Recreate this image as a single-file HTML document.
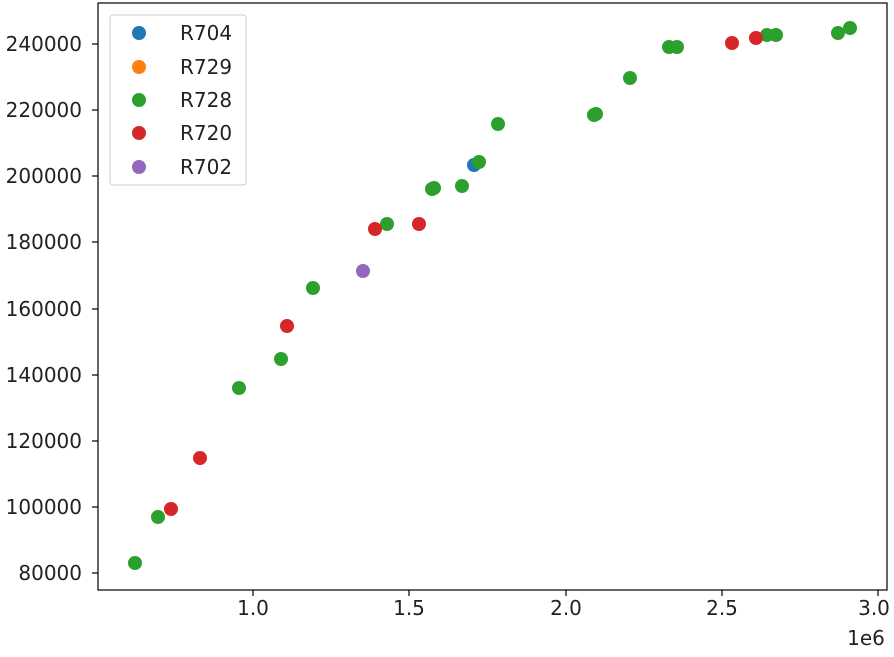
<!DOCTYPE html>
<html><head><meta charset="utf-8"><style>body{margin:0;background:#fff}</style></head><body>
<svg width="894" height="652" xmlns="http://www.w3.org/2000/svg" font-family="DejaVu Sans, Liberation Sans, sans-serif" font-size="20">
<rect width="894" height="652" fill="#fff"/>
<g stroke="#000" stroke-width="1.2">
<line x1="253" y1="590" x2="253" y2="596"/><line x1="409" y1="590" x2="409" y2="596"/><line x1="566" y1="590" x2="566" y2="596"/><line x1="722" y1="590" x2="722" y2="596"/><line x1="878" y1="590" x2="878" y2="596"/>
<line x1="92" y1="44" x2="98" y2="44"/><line x1="92" y1="110" x2="98" y2="110"/><line x1="92" y1="176" x2="98" y2="176"/><line x1="92" y1="242" x2="98" y2="242"/><line x1="92" y1="309" x2="98" y2="309"/><line x1="92" y1="375" x2="98" y2="375"/><line x1="92" y1="441" x2="98" y2="441"/><line x1="92" y1="507" x2="98" y2="507"/><line x1="92" y1="573" x2="98" y2="573"/>
</g>
<g fill="#222" text-anchor="middle">
<text x="253" y="615">1.0</text><text x="409" y="615">1.5</text><text x="566" y="615">2.0</text><text x="722" y="615">2.5</text><text x="874" y="615">3.0</text>
<text x="866" y="645">1e6</text>
</g>
<g fill="#222" text-anchor="end">
<text x="82" y="51">240000</text><text x="82" y="117">220000</text><text x="82" y="183">200000</text><text x="82" y="249">180000</text><text x="82" y="316">160000</text><text x="82" y="382">140000</text><text x="82" y="448">120000</text><text x="82" y="514">100000</text><text x="82" y="580">80000</text>
</g>
<circle cx="474" cy="165" r="7" fill="#1f77b4"/>
<g fill="#2ca02c">
<circle cx="135" cy="563" r="7"/><circle cx="158" cy="517" r="7"/><circle cx="239" cy="388" r="7"/><circle cx="281" cy="359" r="7"/><circle cx="313" cy="288" r="7"/><circle cx="387" cy="224" r="7"/><circle cx="432" cy="189" r="7"/><circle cx="434" cy="188" r="7"/><circle cx="462" cy="186" r="7"/><circle cx="479" cy="162" r="7"/><circle cx="498" cy="124" r="7"/><circle cx="594" cy="115" r="7"/><circle cx="596" cy="114" r="7"/><circle cx="630" cy="78" r="7"/><circle cx="669" cy="47" r="7"/><circle cx="677" cy="47" r="7"/><circle cx="767" cy="35" r="7"/><circle cx="776" cy="35" r="7"/><circle cx="838" cy="33" r="7"/><circle cx="850" cy="28" r="7"/>
</g>
<g fill="#d62728">
<circle cx="171" cy="509" r="7"/><circle cx="200" cy="458" r="7"/><circle cx="287" cy="326" r="7"/><circle cx="375" cy="229" r="7"/><circle cx="419" cy="224" r="7"/><circle cx="732" cy="43" r="7"/><circle cx="756" cy="38" r="7"/>
</g>
<circle cx="363" cy="271" r="7" fill="#9467bd"/>
<rect x="98" y="3" width="789" height="587" fill="none" stroke="#000" stroke-width="1.2"/>
<rect x="110" y="15" width="136" height="170" rx="3" fill="#fff" fill-opacity="0.8" stroke="#ccc"/>
<circle cx="139" cy="33" r="7" fill="#1f77b4"/><circle cx="139" cy="67" r="7" fill="#ff7f0e"/><circle cx="139" cy="100" r="7" fill="#2ca02c"/><circle cx="139" cy="133" r="7" fill="#d62728"/><circle cx="139" cy="167" r="7" fill="#9467bd"/>
<g fill="#222">
<text x="180" y="40">R704</text><text x="180" y="74">R729</text><text x="180" y="107">R728</text><text x="180" y="140">R720</text><text x="180" y="174">R702</text>
</g>
</svg>
</body></html>
